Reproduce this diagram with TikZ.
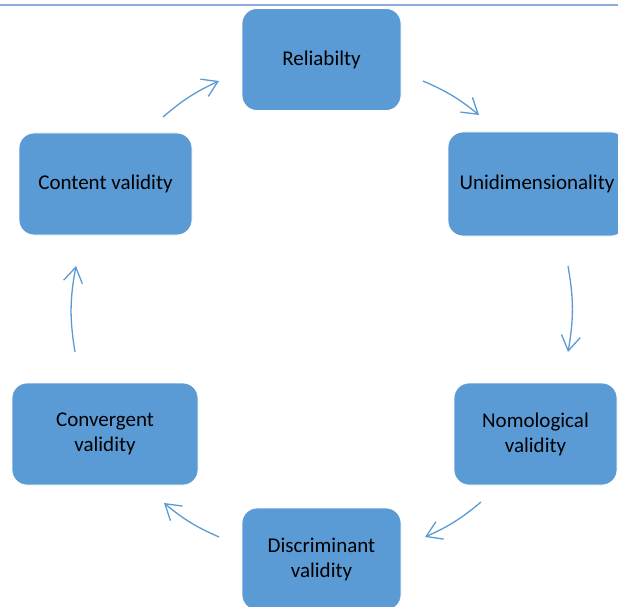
\documentclass[tikz,border=0pt]{standalone}
\usepackage{fontspec}
\setmainfont{Carlito}
\usetikzlibrary{arrows.meta}
\definecolor{boxblue}{HTML}{5B9BD5}
\definecolor{rule}{HTML}{8FAADC}
\begin{document}
\begin{tikzpicture}[x=1pt,y=-1pt,
  stage/.style={rectangle, rounded corners=15pt, fill=boxblue, draw=white,
    line width=0.8pt, align=center, inner sep=0pt,
    font=\fontsize{21}{25}\selectfont, text=black},
  cycle/.style={draw=boxblue, line width=1.3pt,
    -{Straight Barb[length=15pt,width=19pt,line width=1.3pt]}}]
\useasboundingbox (0,0) rectangle (618,607);
\clip (0,0) rectangle (618,607);
\fill[white] (0,0) rectangle (618,607);
% header rule
\draw[rule, line width=2pt] (0,5) -- (618,5);
% stages
\node[stage, minimum width=159pt, minimum height=102pt] (rel) at (321.5,59.5) {Reliabilty};
\node[stage, minimum width=178pt, minimum height=104pt] (uni) at (537,184) {Unidimensionality};
\node[stage, minimum width=163pt, minimum height=102pt] (nom) at (535.5,434) {Nomological\\validity};
\node[stage, minimum width=159pt, minimum height=102pt] (dis) at (321.5,559) {Discriminant\\validity};
\node[stage, minimum width=186pt, minimum height=102pt] (con) at (105,434) {Convergent\\validity};
\node[stage, minimum width=173pt, minimum height=102pt] (cnt) at (105.5,184) {Content validity};
% arrow end points on the cycle
\coordinate (a1s) at (163,117); \coordinate (a1e) at (219,81);
\coordinate (a2s) at (423,81);  \coordinate (a2e) at (479,115);
\coordinate (a3s) at (568,266); \coordinate (a3e) at (568,352);
\coordinate (a4s) at (481,502); \coordinate (a4e) at (425,537);
\coordinate (a5s) at (219,537); \coordinate (a5e) at (164,503);
\coordinate (a6s) at (75,352);  \coordinate (a6e) at (76,266);
\draw[cycle] (a1s) to[bend left=8] (a1e);
\draw[cycle] (a2s) to[bend left=8] (a2e);
\draw[cycle] (a3s) to[bend left=10] (a3e);
\draw[cycle] (a4s) to[bend left=8] (a4e);
\draw[cycle] (a5s) to[bend left=8] (a5e);
\draw[cycle] (a6s) to[bend left=10] (a6e);
\end{tikzpicture}
\end{document}
